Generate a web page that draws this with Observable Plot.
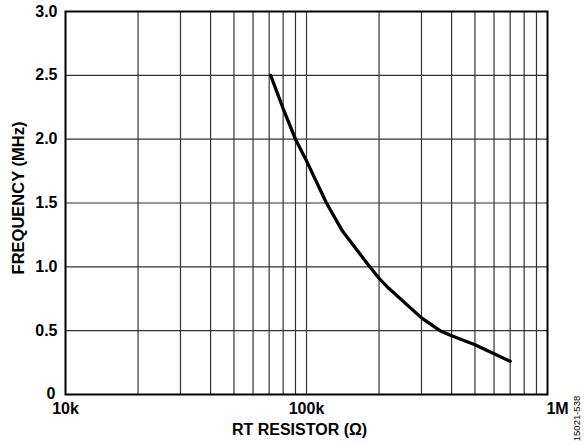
<!DOCTYPE html>
<html>
<head>
<meta charset="utf-8">
<script src="https://cdn.jsdelivr.net/npm/d3@7"></script>
<script src="https://cdn.jsdelivr.net/npm/@observablehq/plot@0.6"></script>
<style>
  html, body { margin: 0; padding: 0; background: #fff; }
  #chart svg { display: block; }
</style>
</head>
<body>
<div id="chart"></div>
<script>
// Data
const resistanceOhm = [71e3, 80e3, 90e3, 100e3, 121e3, 141e3, 183e3, 200e3, 220e3, 300e3, 358e3, 400e3, 500e3, 600e3, 700e3];
const frequencyMHz  = [2.5, 2.24, 2.0, 1.83, 1.5, 1.28, 1.0, 0.91, 0.83, 0.60, 0.50, 0.46, 0.39, 0.32, 0.26];

// Axes
const xTickValues = [1e4, 1e5, 1e6];
const xTickLabels = ["10k", "100k", "1M"];
const yTickValues = [0, 0.5, 1.0, 1.5, 2.0, 2.5, 3.0];
const yTickLabels = ["0", "0.5", "1.0", "1.5", "2.0", "2.5", "3.0"];
const xGridValues = [2e4, 3e4, 4e4, 5e4, 6e4, 7e4, 8e4, 9e4, 1e5, 2e5, 3e5, 4e5, 5e5, 6e5, 7e5, 8e5, 9e5];
const yGridValues = [0.5, 1.0, 1.5, 2.0, 2.5];
const xTitle = "RT RESISTOR (Ω)";
const yTitle = "FREQUENCY (MHz)";
const figureId = "15021-538";

const data = resistanceOhm.map((r, i) => ({r, f: frequencyMHz[i]}));
const xFmt = v => xTickLabels[xTickValues.indexOf(v)];
const yFmt = v => yTickLabels[yTickValues.indexOf(v)];

const chart = Plot.plot({
  width: 584,
  height: 445,
  marginLeft: 65,
  marginRight: 37,
  marginTop: 11,
  marginBottom: 51,
  style: {fontFamily: "'Liberation Sans', Arial, Helvetica, sans-serif", fontWeight: "bold", fontSize: "16px", color: "#000", background: "#fff"},
  x: {type: "log", domain: [1e4, 1e6]},
  y: {domain: [0, 3]},
  marks: [
    Plot.ruleX(xGridValues, {stroke: "#333", strokeWidth: 1.2}),
    Plot.ruleY(yGridValues, {stroke: "#333", strokeWidth: 1.2}),
    Plot.frame({stroke: "#000", strokeWidth: 2}),
    Plot.line(data, {x: "r", y: "f", stroke: "#000", strokeWidth: 3.3, strokeLinejoin: "round"}),
    Plot.axisX(xTickValues.slice(0, 2), {tickSize: 0, tickPadding: 8, tickFormat: xFmt, label: null, fontSize: 16}),
    Plot.axisX(xTickValues.slice(2), {tickSize: 0, tickPadding: 8, tickFormat: xFmt, label: null, fontSize: 16, dx: 10}),
    Plot.axisY(yTickValues.slice(1), {tickSize: 0, tickPadding: 8, tickFormat: yFmt, label: null, fontSize: 16}),
    Plot.axisY(yTickValues.slice(0, 1), {tickSize: 0, tickPadding: 10, tickFormat: yFmt, label: null, fontSize: 16, dy: -1}),
    Plot.text([xTitle], {frameAnchor: "bottom", dy: 40, dx: -7, fontSize: 16, fontWeight: "bold", textAnchor: "middle"}),
    Plot.text([yTitle], {frameAnchor: "left", rotate: -90, dx: -47, dy: -5, fontSize: 16.5, fontWeight: "bold", textAnchor: "middle"}),
    Plot.text([figureId], {frameAnchor: "bottom-right", rotate: -90, dx: 32, dy: 24, fontSize: 9.5, fontWeight: "normal", textAnchor: "middle"})
  ]
});
document.getElementById("chart").appendChild(chart);
</script>
</body>
</html>
